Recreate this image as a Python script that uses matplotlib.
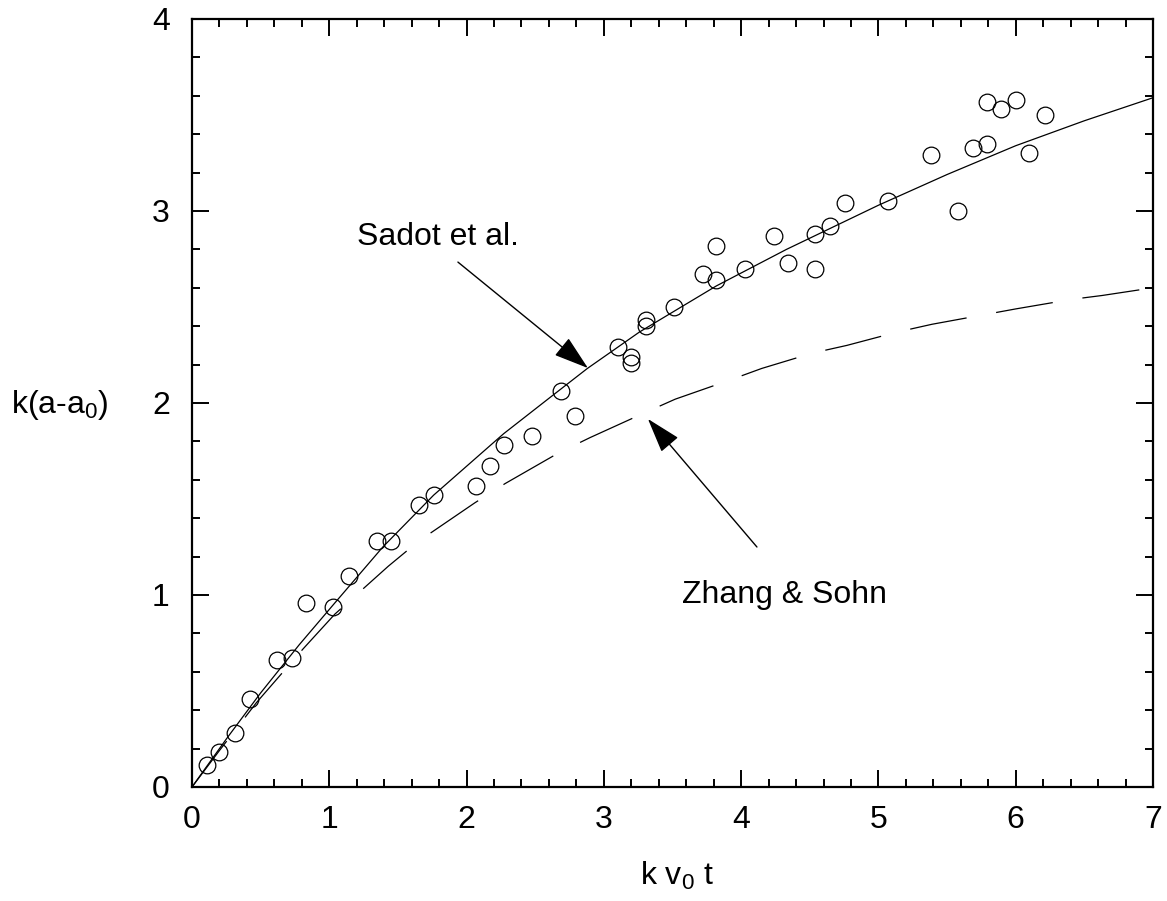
import numpy as np
import matplotlib
matplotlib.use("Agg")
import matplotlib.pyplot as plt
from matplotlib.ticker import MultipleLocator

plt.rcParams['font.family'] = ['Liberation Sans', 'DejaVu Sans']
plt.rcParams['mathtext.fontset'] = 'custom'
plt.rcParams['mathtext.rm'] = 'Liberation Sans'
plt.rcParams['mathtext.it'] = 'Liberation Sans'

# measured points
exp_x = [0.11, 0.20, 0.31, 0.42, 0.62, 0.73, 0.83, 1.03, 1.14, 1.35, 1.45, 1.65, 1.76,
         2.07, 2.17, 2.27, 2.48, 2.69, 2.79, 3.10, 3.20, 3.20, 3.31, 3.31, 3.51,
         3.72, 3.82, 3.82, 4.03, 4.24, 4.34, 4.54, 4.54, 4.65, 4.76, 5.07, 5.38,
         5.58, 5.69, 5.79, 5.79, 5.89, 6.00, 6.10, 6.21]
exp_y = [0.115, 0.18, 0.28, 0.46, 0.66, 0.67, 0.96, 0.94, 1.10, 1.28, 1.28, 1.47, 1.52,
         1.57, 1.67, 1.78, 1.83, 2.06, 1.93, 2.29, 2.24, 2.21, 2.43, 2.40, 2.50,
         2.67, 2.64, 2.82, 2.70, 2.87, 2.73, 2.70, 2.88, 2.92, 3.04, 3.05, 3.29,
         3.00, 3.33, 3.35, 3.57, 3.53, 3.58, 3.30, 3.50]

# Sadot et al. (solid)
sadot_x = [0, 0.25, 0.5, 0.78, 1.03, 1.39, 1.76, 2.27, 2.61, 2.88, 3.26, 3.82, 4.33,
           5.0, 5.5, 6.0, 6.5, 7.0]
sadot_y = [0, 0.25, 0.49, 0.74, 0.95, 1.25, 1.52, 1.84, 2.03, 2.18, 2.37, 2.61, 2.80,
           3.03, 3.19, 3.34, 3.47, 3.59]

# Zhang & Sohn (dashed)
zs_x = [0, 0.2, 0.47, 0.81, 1.04, 1.43, 1.65, 2.06, 2.28, 2.67, 2.90, 3.30, 3.52,
        3.92, 4.15, 4.52, 4.77, 5.14, 5.39, 6.0, 6.41, 6.63, 7.0]
zs_y = [0, 0.19, 0.44, 0.72, 0.90, 1.15, 1.28, 1.48, 1.58, 1.74, 1.82, 1.95, 2.02,
        2.12, 2.18, 2.26, 2.30, 2.37, 2.41, 2.49, 2.54, 2.56, 2.60]

fig = plt.figure(figsize=(11.67, 9.01), dpi=100)
ax = fig.add_axes([192/1167, 114/901, 961/1167, 768/901])

ax.plot(sadot_x, sadot_y, color='black', lw=0.9)
ax.plot(zs_x, zs_y, color='black', lw=0.9, dashes=(46, 24))
ax.plot(exp_x, exp_y, 'o', mfc='none', mec='black', ms=12, mew=0.9)

ax.set_xlim(0, 7)
ax.set_ylim(0, 4)
ax.xaxis.set_major_locator(MultipleLocator(1))
ax.xaxis.set_minor_locator(MultipleLocator(0.2))
ax.yaxis.set_major_locator(MultipleLocator(1))
ax.yaxis.set_minor_locator(MultipleLocator(0.2))
ax.tick_params(which='both', direction='in', top=True, right=True, width=1.4)
ax.tick_params(which='major', length=12, labelsize=23)
ax.tick_params(which='minor', length=6)
ax.tick_params(axis='x', pad=13)
ax.tick_params(axis='y', pad=16)
for s in ax.spines.values():
    s.set_linewidth(1.6)

fig.text(60/1167, 1 - 405/901, 'k(a-a$_0$)', fontsize=23, ha='center', va='center')
fig.text(677/1167, 1 - 876/901, 'k v$_0$ t', fontsize=23, ha='center', va='center')

# annotations
ax.text(1.2, 2.823, 'Sadot et al.', fontsize=23, va='baseline')
ax.text(3.569, 0.958, 'Zhang & Sohn', fontsize=23, va='baseline')
arr = dict(arrowstyle='-|>,head_length=1.1,head_width=0.35', color='black', lw=1,
           mutation_scale=20, shrinkA=0, shrinkB=0)
ax.annotate('', xy=(2.884, 2.182), xytext=(1.937, 2.734), arrowprops=arr)
ax.annotate('', xy=(3.321, 1.917), xytext=(4.115, 1.25), arrowprops=arr)

fig.savefig('out.png', dpi=100)
